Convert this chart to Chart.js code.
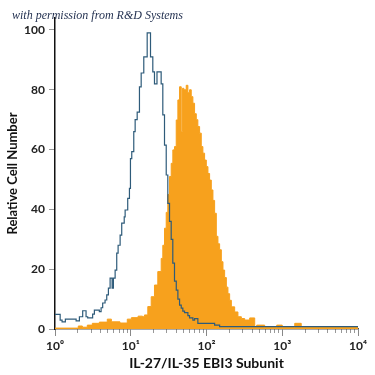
<!DOCTYPE html>
<html><head><meta charset="utf-8">
<script src="https://cdn.jsdelivr.net/npm/chart.js@4"></script>
<style>html,body{margin:0;padding:0;background:#fff}canvas{display:block}</style>
</head><body>
<canvas id="c" width="375" height="375"></canvas>
<script>
// Isotype control histogram (blue outline): bin start intensity and relative count
const blueX = [1, 1.17, 1.24, 1.37, 1.9, 2.1, 2.32, 2.57, 2.7, 3.14, 3.31, 3.85, 4.06, 4.26, 4.58, 4.82, 5.07, 5.34, 5.68, 5.9, 6.22, 6.53, 6.81, 7.24, 7.6, 8.2, 8.43, 9.12, 9.61, 9.91, 10.31, 10.96, 11.43, 12.16, 13.03, 13.73, 14.86, 16.48, 18.23, 19.55, 20.57, 22.2, 25.2, 26.5, 27.9, 29.4, 30.85, 32.5, 34.2, 35.9, 37.8, 39.9, 41.9, 44.1, 46.4, 48.7, 51.3, 56.8, 59.7, 66.1, 69.6, 76.9, 128, 149, 10000];
const blueY = [4.9, 3.0, 2.4, 3.3, 2.7, 4.1, 6.1, 4.1, 3.7, 5.0, 6.3, 5.8, 7.1, 8.7, 9.7, 11.4, 13.7, 17, 13.7, 17, 19.7, 25.4, 28, 31.4, 35.4, 37.5, 39.8, 43.7, 47, 57, 59.3, 66, 70, 72.5, 81, 85.6, 91, 99, 91, 86, 82, 86, 82, 71.6, 61.5, 51.5, 42, 36, 30, 22, 16, 13, 10, 8, 7, 6, 5.5, 4.5, 3.7, 3, 3.5, 1.9, 1.3, 0.8, 0.8];
// EBI3 stained histogram (orange filled)
const orangeX = [1, 2.03, 2.3, 2.67, 3.11, 3.85, 4.9, 5.55, 7.2, 9.0, 10.2, 12.5, 14.3, 15.17, 16.79, 18.62, 20.57, 22.75, 25.23, 26.5, 27.9, 29.38, 30.85, 32.49, 34.21, 35.94, 37.84, 39.85, 41.88, 44.06, 46.41, 48.3, 50.24, 54, 56.8, 59.7, 62.9, 66.1, 69.6, 73.3, 76.9, 81.1, 85.3, 89.6, 94.4, 99.4, 104.5, 109.9, 115.7, 121.6, 128, 134.8, 141.6, 149, 157, 165, 173.5, 182.8, 191.9, 202, 212.8, 235.4, 260, 288.4, 319, 371.5, 433, 460, 586, 846, 1000, 1462, 1780, 10000];
const orangeY = [0.3, 1, 0.6, 1.3, 1.9, 2.3, 3.3, 2.4, 2.0, 3.3, 3.8, 4.3, 4.1, 4.7, 7.5, 10.8, 14.7, 19.2, 23.6, 28, 33.7, 39, 45, 51, 55.4, 59.9, 61, 69.9, 76.6, 81, 66, 80.5, 80, 81.5, 79, 80, 77.7, 75.5, 72, 70, 67.7, 65.5, 61, 58.8, 56.5, 54.3, 52, 49.8, 46.5, 43, 38.7, 31, 28.5, 26.5, 22.5, 19.7, 17.2, 14, 11.8, 9.6, 7.4, 5.7, 4.1, 3.5, 3, 3.7, 0.8, 1.3, 0.5, 1.3, 0.5, 1.9, 0.5, 0.5];

const yTicks = [0, 20, 40, 60, 80, 100];
const xMajorTicks = [1, 10, 100, 1000, 10000];
const xTickLabels = ['10\u2070', '10\u00B9', '10\u00B2', '10\u00B3', '10\u2074'];
const xTitle = 'IL-27/IL-35 EBI3 Subunit';
const yTitle = 'Relative Cell Number';
const credit = 'with permission from R&D Systems';

const toPts = (xs, ys) => xs.map((x, i) => ({x: x, y: ys[i]}));
const FONT = "Lato, 'Liberation Sans', Arial, sans-serif";

const creditPlugin = {
  id: 'credit',
  afterDraw(chart) {
    const ctx = chart.ctx;
    ctx.save();
    ctx.font = "italic 12px 'Liberation Serif', serif";
    ctx.fillStyle = '#1f2d4d';
    ctx.textBaseline = 'alphabetic';
    ctx.textAlign = 'left';
    ctx.fillText(credit, 12, 19);
    ctx.restore();
  }
};

new Chart(document.getElementById('c'), {
  type: 'line',
  data: {
    datasets: [
      {label: 'Control', data: toPts(blueX, blueY), stepped: true, borderColor: '#2e5b7a', borderWidth: 1.2, pointRadius: 0, fill: false, order: 0},
      {label: 'EBI3', data: toPts(orangeX, orangeY), stepped: true, borderColor: '#f7a11d', backgroundColor: '#f7a11d', borderWidth: 1, pointRadius: 0, fill: 'origin', order: 1}
    ]
  },
  plugins: [creditPlugin],
  options: {
    responsive: false,
    animation: false,
    devicePixelRatio: 1,
    layout: {padding: {top: 18, right: 17, left: 0, bottom: 0}},
    plugins: {legend: {display: false}, tooltip: {enabled: false}},
    scales: {
      x: {
        type: 'logarithmic', min: 1, max: 10000, position: 'bottom', weight: 1,
        afterBuildTicks: s => { s.ticks = xMajorTicks.map(v => ({value: v, major: true})); },
        afterFit: s => { s.height = 46; },
        ticks: {autoSkip: false, maxRotation: 0, padding: 3, color: '#222',
          font: {family: FONT, size: 12, weight: 'bold'},
          callback: (v) => { const i = xMajorTicks.indexOf(v); return i >= 0 ? xTickLabels[i] : ''; }},
        grid: {drawOnChartArea: false, drawTicks: true, tickLength: 7, tickColor: '#888', tickWidth: 1},
        border: {display: true, color: '#555', width: 1.5},
        title: {display: true, text: xTitle, color: '#111', font: {family: FONT, size: 14, weight: 'bold'}, padding: {top: 0, bottom: 3}}
      },
      xMinor: {
        type: 'logarithmic', min: 1, max: 10000, position: 'bottom', weight: 0,
        afterBuildTicks: s => {
          s.ticks = s.ticks.filter(t => {
            const m = t.value / Math.pow(10, Math.floor(Math.log10(t.value) + 1e-9));
            const r = Math.round(m);
            return Math.abs(m - r) < 1e-6 && r >= 2 && r <= 9;
          });
        },
        afterFit: s => { s.height = 0; },
        ticks: {display: false, autoSkip: false},
        grid: {drawOnChartArea: false, drawTicks: true, tickLength: 4, tickColor: '#999', tickWidth: 1},
        border: {display: false}
      },
      y: {
        min: 0, max: 104,
        afterBuildTicks: s => { s.ticks = yTicks.map(v => ({value: v})); },
        afterFit: s => { s.width = 55; },
        ticks: {padding: 4, color: '#222', font: {family: FONT, size: 12, weight: 'bold'}},
        grid: {drawOnChartArea: false, drawTicks: true, tickLength: 6, tickColor: '#999'},
        border: {display: true, color: '#111', width: 1.5},
        title: {display: true, text: yTitle, color: '#111', font: {family: FONT, size: 13, weight: 'bold'}, padding: {top: 5, bottom: 0}}
      }
    }
  }
});
</script>
</body></html>
